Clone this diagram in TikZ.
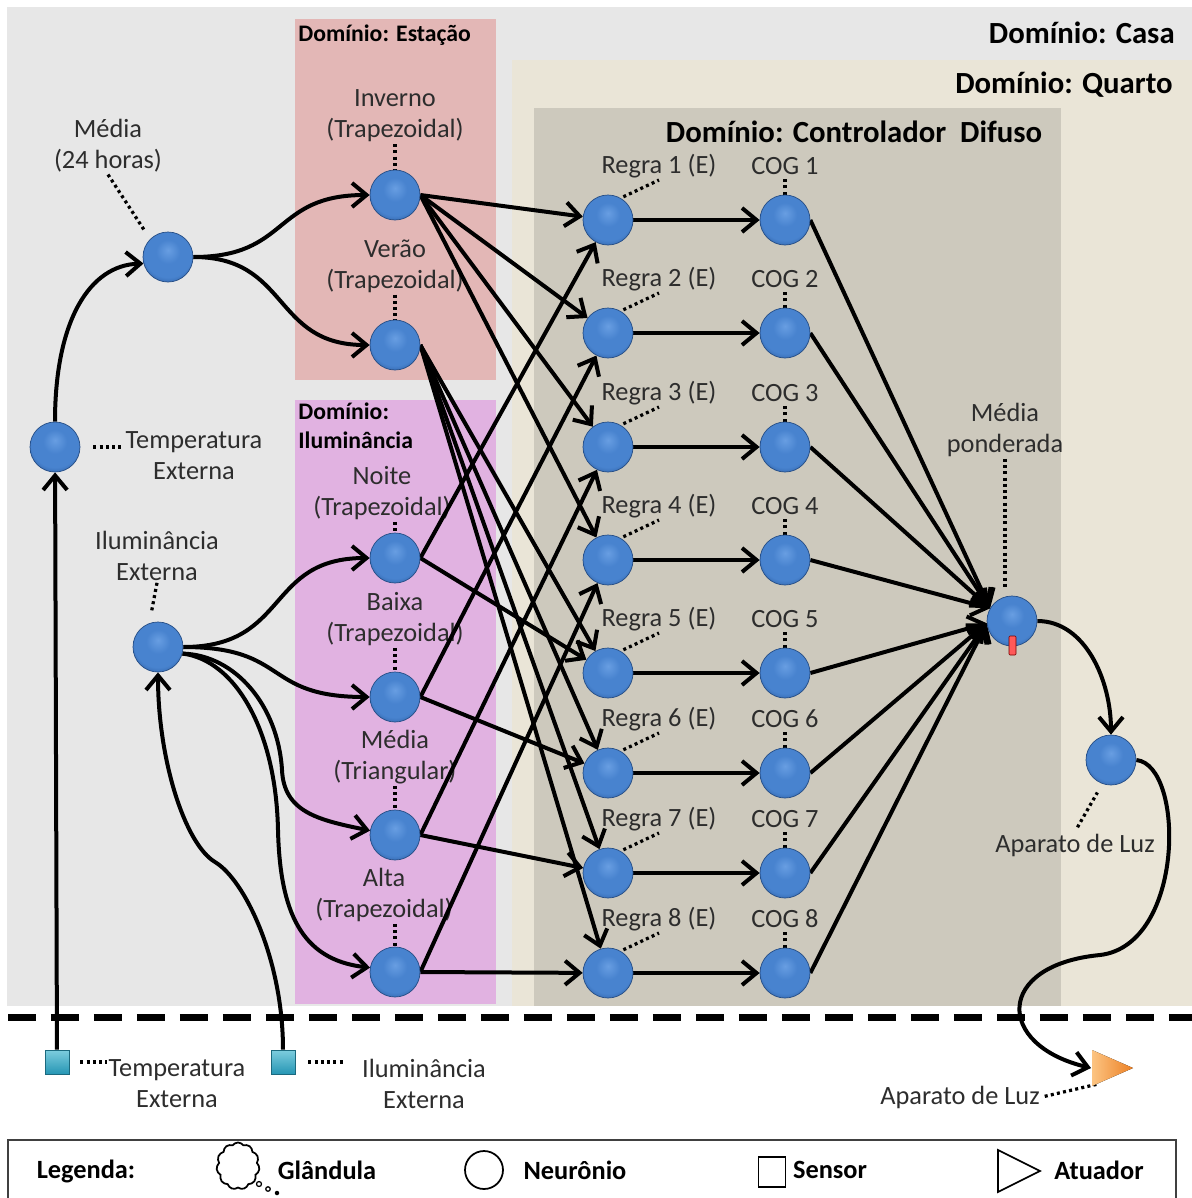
\documentclass[tikz,border=0pt]{standalone}
\usepackage{fontspec}
\setmainfont{Carlito}
\usetikzlibrary{arrows.meta,shapes.symbols}

\definecolor{casa}{RGB}{231,231,231}
\definecolor{quarto}{RGB}{234,229,215}
\definecolor{difuso}{RGB}{205,201,189}
\definecolor{estacao}{RGB}{227,183,182}
\definecolor{ilumin}{RGB}{225,178,225}
\definecolor{txt}{RGB}{45,45,45}
\definecolor{ballhi}{RGB}{104,158,226}
\definecolor{ballmid}{RGB}{72,131,207}
\definecolor{balllo}{RGB}{46,96,166}
\definecolor{sensorhi}{RGB}{125,205,222}
\definecolor{sensorlo}{RGB}{38,150,180}
\definecolor{atuhi}{RGB}{252,196,130}
\definecolor{atulo}{RGB}{236,128,36}

% blue sphere for the neurons
\pgfdeclareradialshading{neuronball}{\pgfpoint{0bp}{7bp}}{%
  color(0bp)=(ballhi); color(12bp)=(ballmid); color(24bp)=(ballmid);
  color(32bp)=(balllo); color(50bp)=(balllo)}

\pgfdeclarelayer{back}
\pgfdeclarelayer{wires}
\pgfsetlayers{back,wires,main}

\tikzset{
  neuron/.style={circle, minimum size=1cm, inner sep=0pt, shade, shading=neuronball,
    draw=balllo!80!black, line width=0.4pt},
  sensor/.style={rectangle, minimum size=0.48cm, inner sep=0pt, top color=sensorhi,
    bottom color=sensorlo, draw=sensorlo!70!black, line width=0.4pt},
  arr/.style={line width=0.08cm, -{Straight Barb[length=0.29cm,width=0.48cm]}},
  dots/.style={line width=0.065cm, dash pattern=on 0.06cm off 0.065cm},
  lbl/.style={font=\fontsize{15}{17.6}\selectfont, text=txt, align=center, inner sep=1pt},
  dom/.style={font=\fontsize{17.5}{20}\selectfont\bfseries, inner sep=0pt},
  subdom/.style={font=\fontsize{13.5}{17}\selectfont\bfseries, inner sep=0pt, align=left},
  legtxt/.style={font=\fontsize{15}{18}\selectfont\bfseries, inner sep=0pt},
  legshape/.style={draw=black, line width=0.035cm},
}

\begin{document}
\begin{tikzpicture}[x=0.02cm, y=-0.02cm]
\useasboundingbox (0,0) rectangle (1192,1198);

\begin{pgfonlayer}{back}
  % domains
  \fill[white] (0,0) rectangle (1192,1198);
  \fill[casa] (7,7) rectangle (1192,1006);
  \fill[quarto] (512,60) rectangle (1192,1006);
  \fill[difuso] (534,108) rectangle (1061,1006);
  \fill[estacao] (295,19) rectangle (496,380);
  \fill[ilumin] (295,400) rectangle (496,1004);
  \draw[line width=0.14cm, dash pattern=on 0.56cm off 0.3cm] (8,1017) -- (1192,1017);

  \node[dom, anchor=east] (tcasa) at (1175,33) {Domínio: Casa};
  \node[dom, anchor=east] (tquarto) at (1173,85) {Domínio: Quarto};
  \node[dom] (tdifuso) at (854,132) {Domínio: Controlador\ \ Difuso};
  \node[subdom, anchor=west] (testacao) at (298,35) {Domínio: Estação};
  \node[subdom, anchor=north west] (tilumin) at (298,402) {Domínio:\\Iluminância};

  % labels
  \node[lbl] (m24l) at (108,146) {Média\\(24 horas)};
  \node[lbl] (tl) at (194,456) {Temperatura\\Externa};
  \node[lbl] (il) at (157,556) {Iluminância\\Externa};
  \node[lbl] (invl) at (395,116) {Inverno\\(Trapezoidal)};
  \node[lbl] (verl) at (395,266) {Verão\\(Trapezoidal)};
  \node[lbl] (noil) at (382,493) {Noite\\(Trapezoidal)};
  \node[lbl] (bail) at (395,619) {Baixa\\(Trapezoidal)};
  \node[lbl] (medl) at (395,757) {Média\\(Triangular)};
  \node[lbl] (altl) at (384,895) {Alta\\(Trapezoidal)};
  \node[lbl] (mpl) at (1005,430) {Média\\ponderada};
  \node[lbl] (luzl) at (1075,845) {Aparato de Luz};
  \node[lbl] (atul) at (960,1097) {Aparato de Luz};
  \node[lbl] (stl) at (177,1084) {Temperatura\\Externa};
  \node[lbl] (sil) at (424,1084) {Iluminância\\Externa};
\end{pgfonlayer}

% neurons
\node[neuron] (tempn) at (55,447) {};
\node[neuron] (media24) at (168,257) {};
\node[neuron] (ilumn) at (158,647) {};
\node[neuron] (inv) at (395,195) {};
\node[neuron] (ver) at (395,345) {};
\node[neuron] (noi) at (395,558) {};
\node[neuron] (bai) at (395,697) {};
\node[neuron] (med) at (395,835) {};
\node[neuron] (alt) at (395,972) {};
\node[neuron] (mp) at (1012,621) {};
\node[neuron] (luz) at (1111,760) {};
\fill[red!65, draw=red!45!black, line width=0.3pt, rounded corners=0.02cm] (1009,636) rectangle (1016,655);

\foreach \i/\y in {1/220,2/333,3/447,4/560,5/673,6/773,7/873,8/973} {
  \node[neuron] (r\i) at (608,\y) {};
  \node[neuron] (c\i) at (785,\y) {};
  \begin{pgfonlayer}{back}
    \node[lbl] (rl\i) at (659,{\y-54}) {Regra \i\ (E)};
    \node[lbl] (cl\i) at (785,{\y-54}) {COG \i};
    \draw[dots, shorten <=0.06cm] (r\i.60) -- (rl\i.south);
    \draw[dots] (c\i.north) -- (c\i.north |- cl\i.south);
  \end{pgfonlayer}
}

% sensors and actuator
\node[sensor] (st) at (57,1062) {};
\node[sensor] (si) at (283,1062) {};
\coordinate (act) at (1091,1068);
\fill[left color=atuhi, right color=atulo] (1092,1050) -- (1133,1068) -- (1092,1086) -- cycle;

% dotted leaders
\begin{pgfonlayer}{back}
  \draw[dots, shorten >=0.2cm] (m24l.south) -- (media24.135);
  \draw[dots, shorten <=0.26cm] (tempn.east) -- (tempn.east -| tl.west);
  \draw[dots, shorten >=0.2cm] (il.south) -- (ilumn.110);
  \foreach \n/\l in {inv/invl,ver/verl,noi/noil,bai/bail,med/medl,alt/altl}
    \draw[dots] (\n.north |- \l.south) -- (\n.north);
  \draw[dots, shorten >=0.12cm] (mpl.south) -- (mpl.south |- mp.north);
  \draw[dots, shorten <=0.1cm, shorten >=0.2cm] (luzl.north) -- (luz.250);
  \draw[dots, shorten <=0.06cm] (atul.east) -- ([shift={(7,16)}]act);
  \draw[dots, shorten <=0.22cm] (st.east) -- (st.east -| stl.west);
  \draw[dots, shorten <=0.26cm, shorten >=0.32cm] (si.east) -- (si.east -| sil.west);
\end{pgfonlayer}

% connections
\begin{pgfonlayer}{wires}
  \draw[arr] (st) -- (tempn);
  \draw[arr] (tempn.north) .. controls (55,320) and (90,265) .. (media24.195);
  \draw[arr] (media24.east) .. controls (290,257) and (272,195) .. (inv.west);
  \draw[arr] (media24.east) .. controls (290,257) and (272,345) .. (ver.west);
  \draw[arr] (si.north) .. controls (283,960) and (245,880) .. (215,862)
    .. controls (185,844) and (158,760) .. (ilumn.south);
  \draw[arr] (ilumn.east) .. controls (290,647) and (265,558) .. (noi.west);
  \draw[arr] (ilumn.east) .. controls (290,647) and (262,697) .. (bai.west);
  \draw[arr] (ilumn.-15) .. controls (235,655) and (278,705) .. (282,770)
    .. controls (284,812) and (318,820) .. (med.170);
  \draw[arr] (ilumn.-15) .. controls (235,660) and (276,730) .. (278,830)
    .. controls (280,910) and (300,960) .. (alt.170);

  \foreach \i in {1,...,4} \draw[arr] (inv.east) -- (r\i);
  \foreach \i in {5,...,8} \draw[arr] (ver.east) -- (r\i);
  \foreach \a/\i/\j in {noi/1/5,bai/2/6,med/3/7,alt/4/8} {
    \draw[arr] (\a.east) -- (r\i);
    \draw[arr] (\a.east) -- (r\j);
  }
  \foreach \i in {1,...,8} \draw[arr] (r\i) -- (c\i);
  \foreach \i in {1,...,4} \draw[arr] (c\i.east) -- (mp.150);
  \foreach \i in {5,...,8} \draw[arr] (c\i.east) -- (mp.185);

  \draw[arr] (mp.east) .. controls (1085,621) and (1111,680) .. (luz.north);
  \draw[arr] (luz.east) .. controls (1185,765) and (1185,945) .. (1100,955)
    .. controls (995,965) and (995,1045) .. (act);
\end{pgfonlayer}

% legend
\draw[draw=black!75, line width=0.04cm] (8,1140) rectangle (1176,1215);
\node[legtxt] (leg) at (86,1171) {Legenda:};
\node[legshape, cloud, cloud puffs=11, cloud puff arc=110, aspect=1, inner sep=0pt,
  minimum width=0.86cm, minimum height=0.94cm] (lgland) at (238,1166) {};
\draw[line width=0.025cm] (259,1184) circle[radius=0.05cm];
\draw[line width=0.025cm] (268,1189) circle[radius=0.045cm];
\fill (277,1193) circle[radius=0.045cm];
\node[legtxt] (lglandt) at (327,1170) {Glândula};
\node[legshape, circle, minimum size=0.76cm, inner sep=0pt] (lneu) at (484,1170) {};
\node[legtxt] (lneut) at (575,1170) {Neurônio};
\node[legshape, rectangle, minimum width=0.54cm, minimum height=0.6cm, inner sep=0pt] (lsen) at (772,1172) {};
\node[legtxt] (lsent) at (830,1170) {Sensor};
\draw[legshape, line join=miter] (998,1150) -- (1040,1171) -- (998,1192) -- cycle;
\node[legtxt] (latut) at (1099,1170) {Atuador};
\end{tikzpicture}
\end{document}
